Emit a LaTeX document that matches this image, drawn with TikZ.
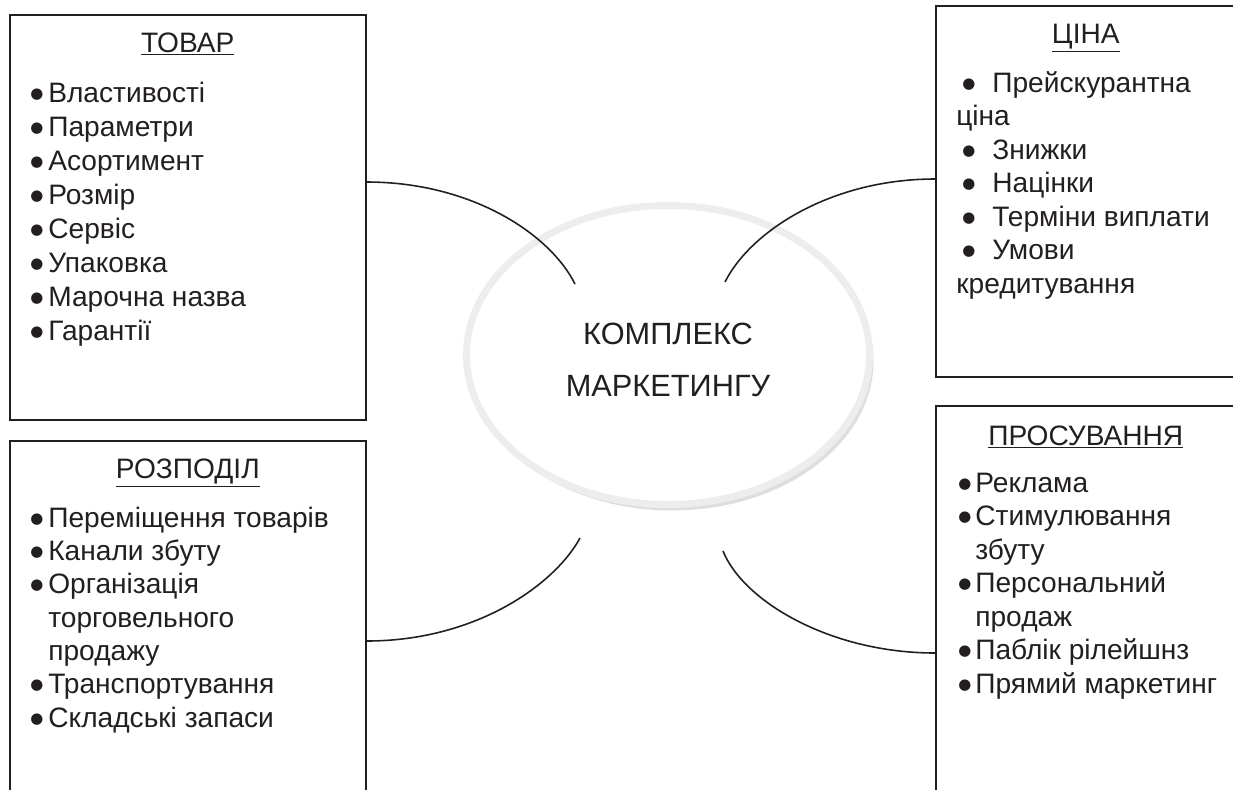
\documentclass[tikz,border=0pt]{standalone}
\usepackage{fontspec}
\setmainfont{Liberation Sans}
\newfontfamily\dotfont{DejaVu Sans}
\usetikzlibrary{shapes.geometric,shadows,positioning}
\definecolor{ink}{RGB}{35,31,32}
\definecolor{ring}{RGB}{236,237,238}
\newcommand\bulglyph{\raisebox{0.08cm}{\dotfont\fontsize{8.5pt}{8.5pt}\selectfont ●}}
\newcommand\bul[1][0.36cm]{\makebox[#1][l]{\bulglyph}}

\begin{document}
\begin{tikzpicture}[
  box/.style={rectangle,draw=ink,line width=0.9pt,anchor=north west,inner sep=0pt},
  head/.style={anchor=base,inner sep=0pt,font=\fontsize{16pt}{19pt}\selectfont,text=ink},
  item/.style={anchor=base west,inner sep=0pt,font=\fontsize{16pt}{19pt}\selectfont,text=ink},
  link/.style={draw=ink,line width=0.9pt}]

  \useasboundingbox (0,0) rectangle (24.66,-15.78);
  \fill[white] (0,0) rectangle (24.66,-15.78);

  % central ellipse
  \node (mix) [ellipse,draw=ring,line width=0.14cm,fill=white,
    minimum width=8.06cm,minimum height=5.98cm,
    drop shadow={shadow xshift=0.08cm,shadow yshift=-0.12cm,fill=black!25,opacity=0.5}]
    at (13.36,-7.10) {};
  \node (mixtext) [align=center,font=\fontsize{17.5pt}{29.6pt}\selectfont,text=ink]
    at ([yshift=-0.1cm]mix.center) {КОМПЛЕКС\\МАРКЕТИНГУ};

  % four boxes
  \node (tovar) [box,minimum width=7.12cm,minimum height=8.10cm] at (0.18,-0.28) {};
  \node (tsina) [box,minimum width=6.00cm,minimum height=7.42cm] at (18.70,-0.10) {};
  \node (rozpodil) [box,minimum width=7.12cm,minimum height=8.00cm] at (0.18,-8.80) {};
  \node (prosuv) [box,minimum width=6.00cm,minimum height=8.50cm] at (18.70,-8.10) {};

  % headings
  \node (tovarhead) [head] at ([yshift=-0.76cm]tovar.north) {\underline{ТОВАР}};
  \node (tsinahead) [head] at ([yshift=-0.76cm]tsina.north) {\underline{ЦІНА}};
  \node (rozpodilhead) [head] at ([yshift=-0.76cm]rozpodil.north) {\underline{РОЗПОДІЛ}};
  \node (prosuvhead) [head] at ([yshift=-0.80cm]prosuv.north) {\underline{ПРОСУВАННЯ}};

  % lists
  \foreach \t [count=\i from 0,evaluate=\i as \dy using -1.76-0.68*\i] in
    {Властивості,Параметри,Асортимент,Розмір,Сервіс,Упаковка,Марочна назва,Гарантії}
    \node (tovar-\i) [item] at ([xshift=0.42cm,yshift=\dy cm]tovar.north west) {\bul\t};

  \foreach \x/\t [count=\i from 0,evaluate=\i as \dy using -1.74-0.67*\i] in
    {0.54/\bul[0.6cm]Прейскурантна,0.42/ціна,0.54/\bul[0.6cm]Знижки,
     0.54/\bul[0.6cm]Націнки,0.54/\bul[0.6cm]Терміни виплати,
     0.54/\bul[0.6cm]Умови,0.42/кредитування}
    \node (tsina-\i) [item] at ([xshift=\x cm,yshift=\dy cm]tsina.north west) {\t};

  \foreach \x/\t [count=\i from 0,evaluate=\i as \dy using -1.74-0.667*\i] in
    {0.42/\bul Переміщення товарів,0.42/\bul Канали збуту,0.42/\bul Організація,
     0.78/торговельного,0.78/продажу,0.42/\bul Транспортування,0.42/\bul Складські запаси}
    \node (rozpodil-\i) [item] at ([xshift=\x cm,yshift=\dy cm]rozpodil.north west) {\t};

  \foreach \x/\t [count=\i from 0,evaluate=\i as \dy using -1.74-0.67*\i] in
    {0.46/\bul[0.34cm]Реклама,0.46/\bul[0.34cm]Стимулювання,0.80/збуту,
     0.46/\bul[0.34cm]Персональний,0.80/продаж,0.46/\bul[0.34cm]Паблік рілейшнз,
     0.46/\bul[0.34cm]Прямий маркетинг}
    \node (prosuv-\i) [item] at ([xshift=\x cm,yshift=\dy cm]prosuv.north west) {\t};

  % arcs
  \coordinate (e1) at (11.50,-5.68);
  \coordinate (e2) at (14.50,-5.64);
  \coordinate (e3) at (11.60,-10.76);
  \coordinate (e4) at (14.46,-11.02);
  \draw[link] ([yshift=-3.36cm]tovar.north east) .. controls +(2.1,0) and +(-0.5,1.0) .. (e1);
  \draw[link] ([yshift=-3.48cm]tsina.north west) .. controls +(-2.1,0) and +(0.5,1.0) .. (e2);
  \draw[link] ([yshift=-4.02cm]rozpodil.north east) .. controls +(2.2,0) and +(-0.5,-0.92) .. (e3);
  \draw[link] ([yshift=-4.96cm]prosuv.north west) .. controls +(-2.1,0) and +(0.4,-1.0) .. (e4);
\end{tikzpicture}
\end{document}
